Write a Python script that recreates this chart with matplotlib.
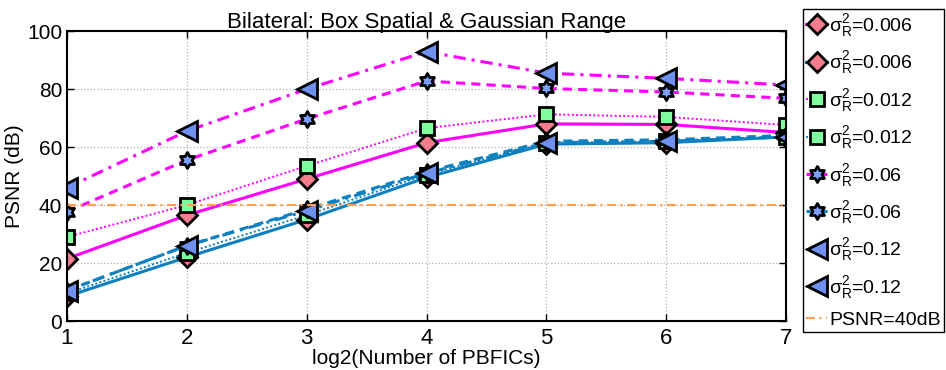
import matplotlib
matplotlib.use("Agg")
import matplotlib.pyplot as plt
from matplotlib.path import Path

plt.rcParams["font.family"] = ["Liberation Sans", "DejaVu Sans"]
plt.rcParams["mathtext.fontset"] = "custom"
plt.rcParams["mathtext.rm"] = "Liberation Sans"
plt.rcParams["mathtext.it"] = "Liberation Sans"
plt.rcParams["mathtext.sf"] = "Liberation Sans"

# data
x = [1, 2, 3, 4, 5, 6, 7]
mag_0006 = [21.5, 36.5, 49, 61.5, 68, 67.8, 65]
blu_0006 = [8.5, 22, 35, 49.5, 61, 61.5, 63.5]
mag_0012 = [29, 40, 53.5, 66.5, 71.3, 70.4, 67.6]
blu_0012 = [9.5, 23.5, 36.5, 50.5, 61.5, 62, 63.5]
mag_006 = [37.7, 55.5, 69.7, 82.8, 80.2, 79, 76.8]
blu_006 = [10.5, 26, 38.5, 51.5, 62, 62.5, 64]
mag_012 = [46, 65.5, 80, 92.9, 85.5, 83.7, 81.4]
blu_012 = [10.5, 26, 38, 51, 61.5, 62, 63.5]
psnr_ref = 40
labels = [r"$\sigma_R^2$=0.006", r"$\sigma_R^2$=0.006",
          r"$\sigma_R^2$=0.012", r"$\sigma_R^2$=0.012",
          r"$\sigma_R^2$=0.06", r"$\sigma_R^2$=0.06",
          r"$\sigma_R^2$=0.12", r"$\sigma_R^2$=0.12"]

magenta = "#ff00ff"
blue = "#0e80c0"
hexagram = Path.unit_regular_star(6, 0.577)
dotted = (0, (1, 1.2))
dashdot = (0, (4, 2, 1, 2))

styles = [
    (mag_0006, magenta, "-", "D", "#f47c8c", 10),
    (blu_0006, blue, "-", "D", "#f47c8c", 10),
    (mag_0012, magenta, dotted, "s", "#80ff9f", 10),
    (blu_0012, blue, dotted, "s", "#80ff9f", 10),
    (mag_006, magenta, (0, (3, 2)), hexagram, "#7a9fff", 11.5),
    (blu_006, blue, (0, (3, 2)), hexagram, "#7a9fff", 11.5),
    (mag_012, magenta, dashdot, "<", "#7090f0", 15),
    (blu_012, blue, dashdot, "<", "#7090f0", 15),
]

fig = plt.figure(figsize=(9.46, 3.7), dpi=100)
ax = fig.add_axes([0.0708, 0.1324, 0.7602, 0.7836])

handles = []
for (vals, col, ls, mk, face, ms), lab in zip(styles, labels):
    lw = 1.4 if ls == dotted else 2.2
    h, = ax.plot(x, vals, color=col, linestyle=ls, linewidth=lw,
                 marker=mk, markersize=ms, markerfacecolor=face,
                 markeredgecolor="black", markeredgewidth=2, label=lab)
    handles.append(h)

h, = ax.plot(x, [psnr_ref] * len(x), color="#ffa050", linestyle=dashdot,
             linewidth=1.6, label="PSNR=40dB")
handles.append(h)

ax.set_xlim(1, 7)
ax.set_ylim(0, 100)
ax.set_xticks(x)
ax.set_yticks([0, 20, 40, 60, 80, 100])
ax.grid(True, color="#b0b0b0", linestyle=":", linewidth=0.9)
ax.tick_params(direction="in", labelsize=15, length=5, width=1,
               top=True, right=True)
ax.tick_params(axis="x", labelsize=16, pad=5)
for s in ax.spines.values():
    s.set_linewidth(1.5)

ax.set_xlabel("log2(Number of PBFICs)", fontsize=15, labelpad=0)
ax.set_ylabel("PSNR (dB)", fontsize=15, labelpad=2)
ax.set_title("Bilateral: Box Spatial & Gaussian Range", fontsize=16, pad=2)

leg = fig.legend(handles=handles, loc="upper left",
                 bbox_to_anchor=(0.849, 0.975), fontsize=14,
                 handlelength=1.1, handletextpad=0.1, labelspacing=0.54,
                 borderpad=0.15, borderaxespad=0, fancybox=False,
                 framealpha=1, edgecolor="black")
leg.get_frame().set_linewidth(1)

fig.savefig("out.png", dpi=100)
